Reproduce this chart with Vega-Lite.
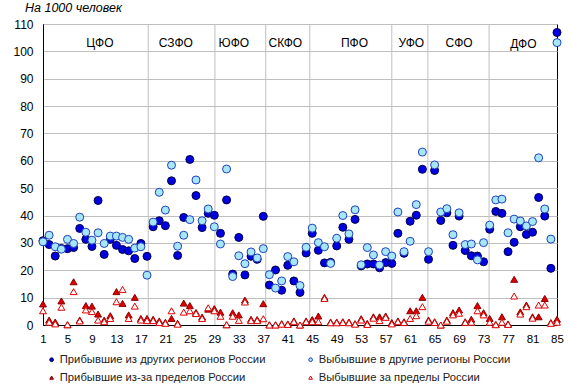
{
  "$schema": "https://vega.github.io/schema/vega-lite/v6.json",
  "width": 514,
  "height": 301,
  "autosize": {"type": "none"},
  "padding": {"left": 43, "top": 24, "right": 17, "bottom": 62},
  "background": "white",
  "config": {
    "font": "Liberation Sans",
    "view": {"stroke": "black", "strokeWidth": 1},
    "axis": {"labelColor": "#000", "domainColor": "black", "ticks": false, "title": null, "labelOverlap": false, "labelBound": false, "labelFlush": false},
    "axisX": {"grid": false, "labelPadding": 8, "labelFontSize": 11.5},
    "axisY": {"grid": true, "gridColor": "#BFBFBF", "gridWidth": 1, "labelPadding": 10, "labelFontSize": 12},
    "legend": {"orient": "none", "legendX": 3, "legendY": 330, "columns": 2, "direction": "horizontal", "title": null, "padding": 0,
      "symbolSize": 14, "symbolStrokeWidth": 1, "labelFontSize": 11.25, "labelLimit": 400, "labelColor": "#222", "labelOffset": 2.5, "rowPadding": 6, "columnPadding": 39}
  },
  "title": {"text": "На 1000 человек", "anchor": "start", "fontStyle": "italic", "fontWeight": "normal", "fontSize": 12.5, "color": "#000", "offset": 4, "dx": 12},
  "datasets": {
    "bounds": [{"b": 18.2}, {"b": 29.1}, {"b": 37.4}, {"b": 44.6}, {"b": 58.0}, {"b": 63.9}, {"b": 73.9}],
    "groups": [
      {"name": "ЦФО", "x": 10.3, "y": 103.2},
      {"name": "СЗФО", "x": 22.7, "y": 103.2},
      {"name": "ЮФО", "x": 32.2, "y": 103.2},
      {"name": "СКФО", "x": 40.6, "y": 103.2},
      {"name": "ПФО", "x": 51.9, "y": 103.2},
      {"name": "УФО", "x": 61.2, "y": 103.0},
      {"name": "СФО", "x": 69.0, "y": 103.0},
      {"name": "ДФО", "x": 79.5, "y": 102.6}
    ],
    "pts": [
      {"i":1,"a":30.8,"b":30.4,"c":7.7,"d":5.2},
      {"i":2,"a":29.4,"b":32.8,"c":1.8,"d":1.0},
      {"i":3,"a":25.2,"b":28.6,"c":1.1,"d":0.4},
      {"i":4,"a":28.0,"b":27.7,"c":8.8,"d":6.5},
      {"i":5,"a":27.9,"b":31.3,"c":0.1,"d":0.1},
      {"i":6,"a":28.3,"b":29.8,"c":15.8,"d":12.2},
      {"i":7,"a":35.3,"b":39.4,"c":1.8,"d":1.5},
      {"i":8,"a":31.3,"b":33.9,"c":7.1,"d":5.5},
      {"i":9,"a":28.7,"b":31.0,"c":6.9,"d":4.9},
      {"i":10,"a":45.5,"b":33.7,"c":4.0,"d":1.8},
      {"i":11,"a":25.8,"b":29.8,"c":1.8,"d":1.2},
      {"i":12,"a":31.3,"b":32.5,"c":3.4,"d":2.4},
      {"i":13,"a":29.1,"b":32.5,"c":12.2,"d":8.5},
      {"i":14,"a":27.6,"b":32.0,"c":7.9,"d":13.0},
      {"i":15,"a":27.1,"b":31.3,"c":3.7,"d":2.4},
      {"i":16,"a":24.3,"b":28.1,"c":10.1,"d":6.9},
      {"i":17,"a":29.8,"b":28.6,"c":2.4,"d":1.8},
      {"i":18,"a":25.1,"b":18.2,"c":2.4,"d":1.6},
      {"i":19,"a":35.9,"b":37.6,"c":2.1,"d":1.6},
      {"i":20,"a":38.1,"b":48.5,"c":1.5,"d":0.9},
      {"i":21,"a":36.3,"b":42.0,"c":1.0,"d":0.6},
      {"i":22,"a":52.7,"b":58.4,"c":2.4,"d":5.2},
      {"i":23,"a":25.4,"b":28.8,"c":0.6,"d":0.3},
      {"i":24,"a":39.3,"b":32.8,"c":8.0,"d":4.7},
      {"i":25,"a":60.5,"b":38.5,"c":7.1,"d":5.2},
      {"i":26,"a":47.3,"b":53.0,"c":4.6,"d":4.2},
      {"i":27,"a":35.6,"b":38.1,"c":2.9,"d":2.4},
      {"i":28,"a":40.8,"b":42.4,"c":5.8,"d":6.3},
      {"i":29,"a":40.1,"b":35.9,"c":6.0,"d":5.2},
      {"i":30,"a":33.5,"b":29.6,"c":4.7,"d":3.2},
      {"i":31,"a":45.7,"b":57.0,"c":0.1,"d":0.1},
      {"i":32,"a":18.6,"b":17.7,"c":4.5,"d":3.2},
      {"i":33,"a":32.0,"b":25.3,"c":3.7,"d":1.7},
      {"i":34,"a":18.3,"b":22.4,"c":9.1,"d":8.4},
      {"i":35,"a":25.1,"b":26.7,"c":2.1,"d":1.6},
      {"i":36,"a":24.0,"b":24.5,"c":2.0,"d":1.6},
      {"i":37,"a":39.7,"b":27.9,"c":7.8,"d":2.3},
      {"i":38,"a":14.6,"b":18.4,"c":0.1,"d":0.0},
      {"i":39,"a":20.1,"b":13.5,"c":0.1,"d":0.0},
      {"i":40,"a":12.7,"b":16.1,"c":0.5,"d":0.3},
      {"i":41,"a":21.8,"b":25.0,"c":0.4,"d":0.2},
      {"i":42,"a":16.1,"b":23.1,"c":1.5,"d":1.2},
      {"i":43,"a":11.9,"b":14.4,"c":0.0,"d":0.0},
      {"i":44,"a":26.3,"b":28.4,"c":1.5,"d":1.2},
      {"i":45,"a":33.5,"b":35.4,"c":2.0,"d":1.2},
      {"i":46,"a":27.3,"b":30.1,"c":3.3,"d":1.2},
      {"i":47,"a":22.7,"b":28.6,"c":10.1,"d":9.7},
      {"i":48,"a":22.9,"b":22.5,"c":1.1,"d":0.8},
      {"i":49,"a":28.9,"b":31.7,"c":1.1,"d":0.8},
      {"i":50,"a":35.7,"b":40.0,"c":1.2,"d":0.9},
      {"i":51,"a":31.3,"b":33.3,"c":1.1,"d":0.8},
      {"i":52,"a":38.6,"b":42.1,"c":0.5,"d":0.3},
      {"i":53,"a":21.6,"b":22.0,"c":2.3,"d":1.8},
      {"i":54,"a":22.3,"b":28.3,"c":0.6,"d":0.2},
      {"i":55,"a":22.3,"b":25.6,"c":3.0,"d":2.5},
      {"i":56,"a":20.9,"b":21.9,"c":3.0,"d":1.6},
      {"i":57,"a":22.8,"b":26.8,"c":3.3,"d":2.8},
      {"i":58,"a":22.5,"b":25.2,"c":0.9,"d":0.4},
      {"i":59,"a":33.5,"b":41.3,"c":1.5,"d":1.2},
      {"i":60,"a":26.2,"b":26.8,"c":1.2,"d":0.9},
      {"i":61,"a":37.9,"b":30.6,"c":5.2,"d":2.4},
      {"i":62,"a":40.1,"b":44.0,"c":5.2,"d":3.4},
      {"i":63,"a":56.9,"b":63.2,"c":10.1,"d":6.7},
      {"i":64,"a":24.0,"b":26.8,"c":1.8,"d":1.4},
      {"i":65,"a":56.5,"b":58.5,"c":1.2,"d":0.9},
      {"i":66,"a":38.2,"b":41.3,"c":0.0,"d":0.0},
      {"i":67,"a":41.0,"b":42.5,"c":1.8,"d":1.4},
      {"i":68,"a":29.1,"b":33.0,"c":4.5,"d":3.7},
      {"i":69,"a":39.8,"b":41.0,"c":5.5,"d":4.3},
      {"i":70,"a":27.2,"b":29.4,"c":1.2,"d":0.9},
      {"i":71,"a":25.3,"b":29.6,"c":2.1,"d":1.0},
      {"i":72,"a":25.2,"b":23.8,"c":7.1,"d":5.2},
      {"i":73,"a":23.1,"b":30.1,"c":4.5,"d":3.7},
      {"i":74,"a":35.0,"b":36.5,"c":2.4,"d":1.0},
      {"i":75,"a":41.5,"b":45.7,"c":0.2,"d":0.1},
      {"i":76,"a":40.8,"b":46.0,"c":3.0,"d":1.0},
      {"i":77,"a":26.8,"b":33.7,"c":0.4,"d":0.2},
      {"i":78,"a":30.2,"b":38.7,"c":16.7,"d":10.6},
      {"i":79,"a":35.9,"b":38.0,"c":4.8,"d":4.0},
      {"i":80,"a":33.1,"b":36.2,"c":7.3,"d":6.7},
      {"i":81,"a":33.9,"b":37.8,"c":3.0,"d":2.5},
      {"i":82,"a":46.6,"b":61.1,"c":3.0,"d":7.3},
      {"i":83,"a":39.8,"b":42.4,"c":9.7,"d":7.3},
      {"i":84,"a":20.7,"b":31.4,"c":0.9,"d":0.6},
      {"i":85,"a":106.9,"b":103.2,"c":2.1,"d":1.0}
    ]
  },
  "layer": [
    {
      "data": {"name": "bounds"},
      "mark": {"type": "rule", "color": "#BFBFBF", "strokeWidth": 1},
      "encoding": {
        "x": {"field": "b", "type": "quantitative",
          "scale": {"domain": [1, 85], "nice": false, "zero": false},
          "axis": {"values": [1,5,9,13,17,21,25,29,33,37,41,45,49,53,57,61,65,69,73,77,81,85], "labelOverlap": false}}
      }
    },
    {
      "data": {"name": "groups"},
      "mark": {"type": "text", "fontSize": 12, "color": "#000"},
      "encoding": {
        "x": {"field": "x", "type": "quantitative",
          "scale": {"domain": [1, 85], "nice": false, "zero": false},
          "axis": {"values": [1,5,9,13,17,21,25,29,33,37,41,45,49,53,57,61,65,69,73,77,81,85], "labelOverlap": false}},
        "y": {"field": "y", "type": "quantitative",
          "scale": {"domain": [0, 110], "nice": false, "zero": true},
          "axis": {"values": [0,10,20,30,40,50,60,70,80,90,100,110], "labelOverlap": false}},
        "text": {"field": "name"}
      }
    },
    {
      "data": {"name": "pts"},
      "transform": [{"fold": ["a", "b"], "as": ["k", "v"]}],
      "mark": {"type": "point", "filled": true, "opacity": 1, "strokeWidth": 1},
      "encoding": {
        "x": {"field": "i", "type": "quantitative",
          "scale": {"domain": [1, 85], "nice": false, "zero": false},
          "axis": {"values": [1,5,9,13,17,21,25,29,33,37,41,45,49,53,57,61,65,69,73,77,81,85], "labelOverlap": false}},
        "y": {"field": "v", "type": "quantitative",
          "scale": {"domain": [0, 110], "nice": false, "zero": true},
          "axis": {"values": [0,10,20,30,40,50,60,70,80,90,100,110], "labelOverlap": false}},
        "size": {"value": 64},
        "shape": {"field": "k", "type": "nominal",
          "scale": {"domain": ["a", "b", "c", "d"], "range": ["circle", "circle", "triangle-up", "triangle-up"]},
          "legend": {"orient": "none", "legendX": 3, "legendY": 330, "symbolSize": 14, "encode": {"symbols": {"update": {"size": {"value": 14}}}},
            "labelExpr": "datum.label == 'a' ? 'Прибывшие из других регионов России' : datum.label == 'b' ? 'Выбывшие в другие регионы России' : datum.label == 'c' ? 'Прибывшие из-за пределов России' : 'Выбывшие за пределы России'"}},
        "fill": {"field": "k", "type": "nominal",
          "scale": {"domain": ["a", "b", "c", "d"], "range": ["#0000E0", "#A6E6F8", "#E00000", "#FFFFFF"]},
          "legend": {"orient": "none", "legendX": 3, "legendY": 330, "symbolSize": 14, "encode": {"symbols": {"update": {"size": {"value": 14}}}},
            "labelExpr": "datum.label == 'a' ? 'Прибывшие из других регионов России' : datum.label == 'b' ? 'Выбывшие в другие регионы России' : datum.label == 'c' ? 'Прибывшие из-за пределов России' : 'Выбывшие за пределы России'"}},
        "stroke": {"field": "k", "type": "nominal",
          "scale": {"domain": ["a", "b", "c", "d"], "range": ["#00004D", "#1F40C0", "#8B0000", "#E00000"]},
          "legend": {"orient": "none", "legendX": 3, "legendY": 330, "symbolSize": 14, "encode": {"symbols": {"update": {"size": {"value": 14}}}},
            "labelExpr": "datum.label == 'a' ? 'Прибывшие из других регионов России' : datum.label == 'b' ? 'Выбывшие в другие регионы России' : datum.label == 'c' ? 'Прибывшие из-за пределов России' : 'Выбывшие за пределы России'"}},
        "order": {"field": "k", "type": "nominal", "sort": "ascending"}
      }
    },
    {
      "data": {"name": "pts"},
      "transform": [{"fold": ["c", "d"], "as": ["k", "v"]}],
      "mark": {"type": "point", "filled": true, "opacity": 1, "strokeWidth": 1},
      "encoding": {
        "x": {"field": "i", "type": "quantitative",
          "scale": {"domain": [1, 85], "nice": false, "zero": false},
          "axis": {"values": [1,5,9,13,17,21,25,29,33,37,41,45,49,53,57,61,65,69,73,77,81,85], "labelOverlap": false}},
        "y": {"field": "v", "type": "quantitative",
          "scale": {"domain": [0, 110], "nice": false, "zero": true},
          "axis": {"values": [0,10,20,30,40,50,60,70,80,90,100,110], "labelOverlap": false}},
        "size": {"value": 48},
        "shape": {"field": "k", "type": "nominal",
          "scale": {"domain": ["a", "b", "c", "d"], "range": ["circle", "circle", "triangle-up", "triangle-up"]},
          "legend": {"orient": "none", "legendX": 3, "legendY": 330, "symbolSize": 14, "encode": {"symbols": {"update": {"size": {"value": 14}}}},
            "labelExpr": "datum.label == 'a' ? 'Прибывшие из других регионов России' : datum.label == 'b' ? 'Выбывшие в другие регионы России' : datum.label == 'c' ? 'Прибывшие из-за пределов России' : 'Выбывшие за пределы России'"}},
        "fill": {"field": "k", "type": "nominal",
          "scale": {"domain": ["a", "b", "c", "d"], "range": ["#0000E0", "#A6E6F8", "#E00000", "#FFFFFF"]},
          "legend": {"orient": "none", "legendX": 3, "legendY": 330, "symbolSize": 14, "encode": {"symbols": {"update": {"size": {"value": 14}}}},
            "labelExpr": "datum.label == 'a' ? 'Прибывшие из других регионов России' : datum.label == 'b' ? 'Выбывшие в другие регионы России' : datum.label == 'c' ? 'Прибывшие из-за пределов России' : 'Выбывшие за пределы России'"}},
        "stroke": {"field": "k", "type": "nominal",
          "scale": {"domain": ["a", "b", "c", "d"], "range": ["#00004D", "#1F40C0", "#8B0000", "#E00000"]},
          "legend": {"orient": "none", "legendX": 3, "legendY": 330, "symbolSize": 14, "encode": {"symbols": {"update": {"size": {"value": 14}}}},
            "labelExpr": "datum.label == 'a' ? 'Прибывшие из других регионов России' : datum.label == 'b' ? 'Выбывшие в другие регионы России' : datum.label == 'c' ? 'Прибывшие из-за пределов России' : 'Выбывшие за пределы России'"}},
        "order": {"field": "k", "type": "nominal", "sort": "ascending"}
      }
    }
  ]
}
